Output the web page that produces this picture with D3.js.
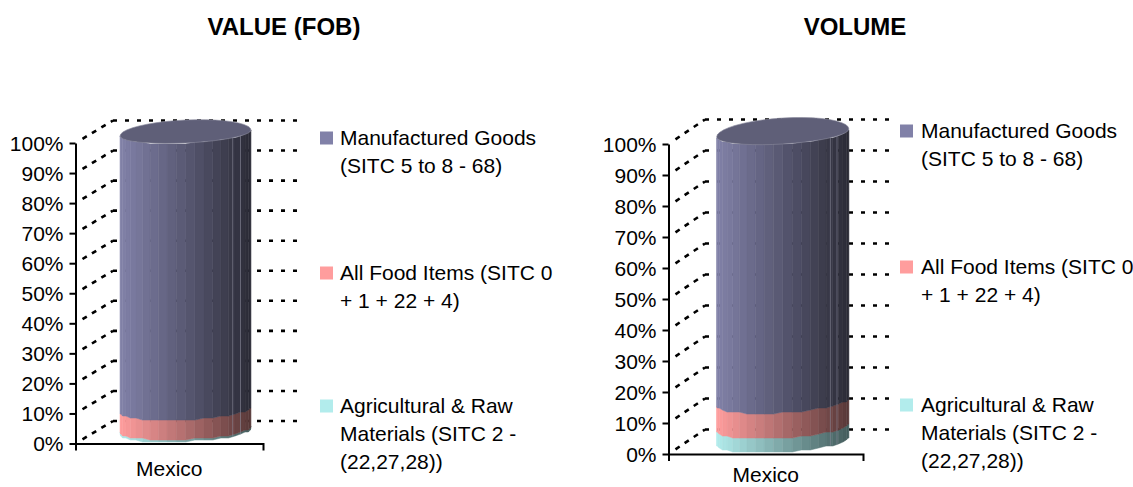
<!DOCTYPE html>
<html>
<head>
<meta charset="utf-8">
<script src="https://cdn.jsdelivr.net/npm/d3@7"></script>
<style>
body { margin: 0; background: #fff; overflow: hidden; }
text { font-family: "Liberation Sans", Arial, sans-serif; fill: #000; }
</style>
</head>
<body>
<div id="chart"></div>
<script>
const categories = ["Mexico"];
const seriesNames = ["raw", "food", "manufactured"];
const valueShares = [0.7, 6.5, 92.8];
const volumeShares = [4.5, 8.2, 87.3];
const tickValues = [0, 10, 20, 30, 40, 50, 60, 70, 80, 90, 100];
const titles = ["VALUE (FOB)", "VOLUME"];
const legendManufactured = ["Manufactured Goods", "(SITC 5 to 8 - 68)"];
const legendFood = ["All Food Items (SITC 0", "+ 1 + 22 + 4)"];
const legendRaw = ["Agricultural & Raw", "Materials (SITC 2 -", "(22,27,28))"];

const lightColors = { raw: "#b2ecec", food: "#ff9d9d", manufactured: "#8181a8" };
const darkColors = { raw: "#445c5c", food: "#573838", manufactured: "#2b2b36" };

const svg = d3.select("#chart").append("svg")
    .attr("width", 1133)
    .attr("height", 487)
    .style("display", "block");

// Draw one fake 3D cylinder chart
function drawChart(shares, o) {
    const g = svg.append("g");
    const x = d3.scaleBand().domain(categories).range([o.left, o.right]).paddingOuter(o.pad).paddingInner(0);
    const y = d3.scaleLinear().domain([0, 100]).range([o.bottom, o.top]);
    // the cylinder stands a little above the floor line
    const yCyl = d3.scaleLinear().domain([0, 100]).range([o.bottom - 2, o.top]);

    // Back wall grid lines
    g.selectAll(".grid").data(tickValues).join("line")
        .attr("x1", o.left + o.depthX)
        .attr("x2", o.gridEnd)
        .attr("y1", d => y(d) - o.depthY)
        .attr("y2", d => y(d) - o.depthY)
        .attr("stroke", "#000").attr("stroke-width", 2.6)
        .attr("stroke-dasharray", "4,8");

    // Side wall diagonals
    g.selectAll(".diag").data(tickValues).join("line")
        .attr("x1", o.left + 7)
        .attr("x2", o.left + o.depthX)
        .attr("y1", d => y(d) - o.depthY * 7 / o.depthX)
        .attr("y2", d => y(d) - o.depthY)
        .attr("stroke", "#000").attr("stroke-width", 2.6)
        .attr("stroke-dasharray", "5,6");

    // Axes
    const yAxis = g.append("g")
        .attr("transform", `translate(${o.left},0)`)
        .call(d3.axisLeft(y).tickValues(tickValues).tickFormat(d => d + "%").tickSize(6).tickSizeOuter(0));
    const xAxis = g.append("g")
        .attr("transform", `translate(0,${o.bottom})`)
        .call(d3.axisBottom(x).tickSize(0).tickSizeOuter(7));
    [yAxis, xAxis].forEach(a => {
        a.selectAll("path,line").attr("stroke", "#000").attr("stroke-width", 2);
        a.selectAll("text").style("font-size", "21px").attr("fill", "#000");
    });
    yAxis.selectAll("text").attr("x", -12).attr("dy", "0.34em");
    xAxis.selectAll("text").attr("y", o.labelY - o.bottom).attr("dy", "0.34em");

    // Stacked cylinder built out of vertical strips
    const row = {};
    seriesNames.forEach((s, i) => { row[s] = shares[i]; });
    const stacked = d3.stack().keys(seriesNames)([row]);
    const x0 = x(categories[0]) + o.shiftX;
    const rx = x.bandwidth() / 2;
    const cx = x0 + rx;
    const strips = d3.range(o.strips);
    const angle = d3.scaleLinear().domain([0, o.strips]).range([Math.PI, 0]);
    const shade = d3.scalePow().exponent(1.3).domain([x0, x0 + 2 * rx]).range([0, 1]);

    const px = a => cx + rx * Math.cos(a);
    const curve = a => o.ry * (Math.sin(a) - 1) - o.tilt * Math.cos(a);
    // rough steps like the original render
    const edgeY = (v, a) => Math.round((yCyl(v) + curve(a)) / 2) * 2;

    stacked.forEach(layer => {
        const lo = layer[0][0];
        const hi = layer[0][1];
        const color = d3.interpolateRgb(lightColors[layer.key], darkColors[layer.key]);
        const stripColor = i => color(shade((px(angle(i)) + px(angle(i + 1))) / 2));
        g.selectAll(".strip-" + layer.key).data(strips).join("path")
            .attr("d", i => {
                const a = angle(i), b = angle(i + 1);
                return `M${px(a)},${edgeY(hi, a)}L${px(b)},${edgeY(hi, b)}L${px(b)},${edgeY(lo, b)}L${px(a)},${edgeY(lo, a)}Z`;
            })
            .attr("fill", stripColor)
            .attr("stroke", stripColor)
            .attr("stroke-width", 0.5);
    });

    // Thin highlights near the right side
    g.selectAll(".shine").data(o.shine).join("line")
        .attr("x1", d => x0 + d * 2 * rx)
        .attr("x2", d => x0 + d * 2 * rx)
        .attr("y1", d => yCyl(100) + curve(Math.acos(2 * d - 1)))
        .attr("y2", d => yCyl(0) + curve(Math.acos(2 * d - 1)))
        .attr("stroke", "#8a8a9a").attr("stroke-width", 0.8).attr("opacity", 0.7);

    // Top cap
    const capAngles = d3.range(0, 41).map(i => i / 40 * 2 * Math.PI);
    g.append("path")
        .datum(capAngles)
        .attr("d", d3.line()
            .x(a => px(a))
            .y(a => {
                const front = Math.sin(a) >= 0;
                const yc = yCyl(100) - o.ry;
                return yc + (front ? o.ry : o.ryBack) * Math.sin(a) - o.tilt * Math.cos(a);
            }))
        .attr("fill", "#5f5f78").attr("stroke", "#8a8a9c").attr("stroke-width", 0.6);

    // Title
    g.append("text")
        .attr("x", o.titleX).attr("y", 35).attr("text-anchor", "middle")
        .style("font-size", "24px").style("font-weight", "bold")
        .text(o.title);

    // Legend
    const entries = [
        { key: "manufactured", lines: legendManufactured, y: o.legendY[0] },
        { key: "food", lines: legendFood, y: o.legendY[1] },
        { key: "raw", lines: legendRaw, y: o.legendY[2] }
    ];
    entries.forEach(e => {
        g.append("rect")
            .attr("x", o.legendX).attr("y", e.y - 6.5)
            .attr("width", 13).attr("height", 13)
            .attr("fill", lightColors[e.key]);
        g.selectAll(null).data(e.lines).join("text")
            .attr("x", o.legendX + o.legendGap)
            .attr("y", (d, i) => e.y + i * 28)
            .attr("dy", "0.34em")
            .style("font-size", "21px")
            .text(d => d);
    });
}

drawChart(valueShares, {
    title: titles[0], titleX: 284,
    left: 75.5, right: 263, top: 143, bottom: 443.5, pad: 0.2157,
    depthX: 37.5, depthY: 22.5, gridEnd: 297, shiftX: 16.25,
    labelY: 469, strips: 22, ry: 10, ryBack: 13, tilt: 3,
    shine: [0.86, 0.92], legendX: 320, legendGap: 20, legendY: [138, 273, 406]
});

drawChart(volumeShares, {
    title: titles[1], titleX: 855,
    left: 668.5, right: 863, top: 144, bottom: 454, pad: 0.235,
    depthX: 36.5, depthY: 24.5, gridEnd: 891, shiftX: 17,
    labelY: 475, strips: 22, ry: 11, ryBack: 15, tilt: 4,
    shine: [0.86, 0.91], legendX: 900, legendGap: 21, legendY: [131, 267, 405]
});
</script>
</body>
</html>
